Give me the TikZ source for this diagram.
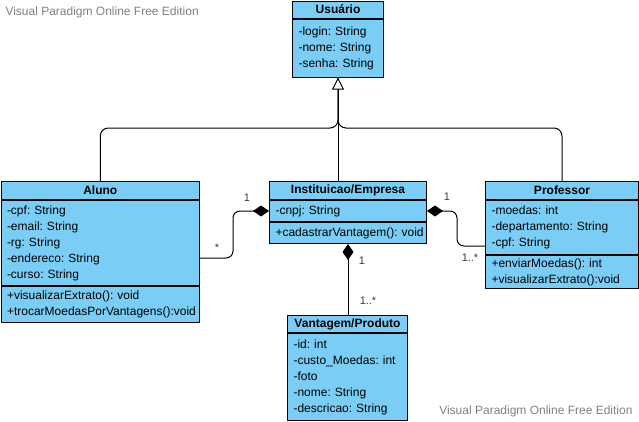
\documentclass[tikz,border=0pt]{standalone}
\usepackage{fontspec}
\setmainfont{Liberation Sans}
\frenchspacing
\usetikzlibrary{positioning,arrows.meta}
\definecolor{umlblue}{RGB}{122,206,245}
\definecolor{markgray}{RGB}{128,128,128}
\definecolor{multgray}{RGB}{60,60,60}
\tikzset{
  classhead/.style={draw, fill=umlblue, font=\fontsize{12}{14}\selectfont\bfseries, minimum width=#1, minimum height=18pt, inner sep=0pt, anchor=north west},
  classbody/.style={draw, fill=umlblue, font=\fontsize{12}{16}\selectfont, text width=#1, align=left, inner xsep=6pt, inner ysep=0pt, anchor=north west},
  compose/.style={{Diamond[length=16pt,width=11pt]}-, rounded corners=7pt},
  inherit/.style={rounded corners=8pt},
  mult/.style={font=\fontsize{11}{13}\selectfont, text=multgray, inner sep=0pt},
  watermark/.style={font=\fontsize{12}{14}\selectfont, text=markgray, inner sep=0pt}
}
\begin{document}
\begin{tikzpicture}[x=1pt, y=-1pt, line width=1pt, line join=round]
\useasboundingbox (0,0) rectangle (639,421);
% Usuario
\node[classhead=91pt, minimum height=17pt] (usuario) at (292,0.5) {Usuário};
\node[classbody=79pt, minimum height=58pt] (usuarioattr) at (usuario.south west) {-login: String\\-nome: String\\-senha: String};
% Aluno
\node[classhead=198.5pt] (aluno) at (0.5,181) {Aluno};
\node[classbody=186.5pt, minimum height=85pt] (alunoattr) at (aluno.south west) {-cpf: String\\-email: String\\-rg: String\\-endereco: String\\-curso: String};
\node[classbody=186.5pt, minimum height=36pt] (alunometh) at (alunoattr.south west) {+visualizarExtrato(): void\\+trocarMoedasPorVantagens():void};
% Instituicao/Empresa
\node[classhead=157pt] (inst) at (269,181) {Instituicao/Empresa};
\node[classbody=145pt, minimum height=21pt] (instattr) at (inst.south west) {-cnpj: String};
\node[classbody=145pt, minimum height=21pt] (instmeth) at (instattr.south west) {\mbox{+cadastrarVantagem(): void}};
% Professor
\node[classhead=153pt] (prof) at (485,181) {Professor};
\node[classbody=141pt, minimum height=54pt] (profattr) at (prof.south west) {-moedas: int\\-departamento: String\\-cpf: String};
\node[classbody=141pt, minimum height=33pt] (profmeth) at (profattr.south west) {+enviarMoedas(): int\\+visualizarExtrato():void};
% Vantagem/Produto
\node[classhead=120pt, minimum height=17pt] (vant) at (287,315) {Vantagem/Produto};
\node[classbody=108pt, minimum height=87pt] (vantattr) at (vant.south west) {-id: int\\-custo\_Moedas: int\\-foto\\-nome: String\\-descricao: String};

% heranca
\coordinate (join) at (usuarioattr.south |- 0,128);
\draw[inherit] (aluno.north) |- (join) -- (usuarioattr.south);
\draw[inherit] (prof.north) |- (join) -- (usuarioattr.south);
\draw[{Triangle[open,fill=white,length=12pt,width=12pt]}-] (usuarioattr.south) -- (usuarioattr.south |- inst.north);

% composicao
\draw[compose] (instattr.west) -- ++(-36,0) |- (alunoattr.east |- 0,258);
\draw[compose] (instattr.east) -- ++(30,0) |- (profattr.west |- 0,246);
\draw[compose] (instmeth.south) -- (instmeth.south |- vant.north);
\node[mult] at (247,198) {1};
\node[mult] at (217,248) {*};
\node[mult] at (447,197) {1};
\node[mult] at (470,258) {1..*};
\node[mult] at (362,261) {1};
\node[mult] at (368,301) {1..*};

\node[watermark, anchor=west] at (5,12) {Visual Paradigm Online Free Edition};
\node[watermark, anchor=east] at (633,411) {Visual Paradigm Online Free Edition};
\end{tikzpicture}
\end{document}
